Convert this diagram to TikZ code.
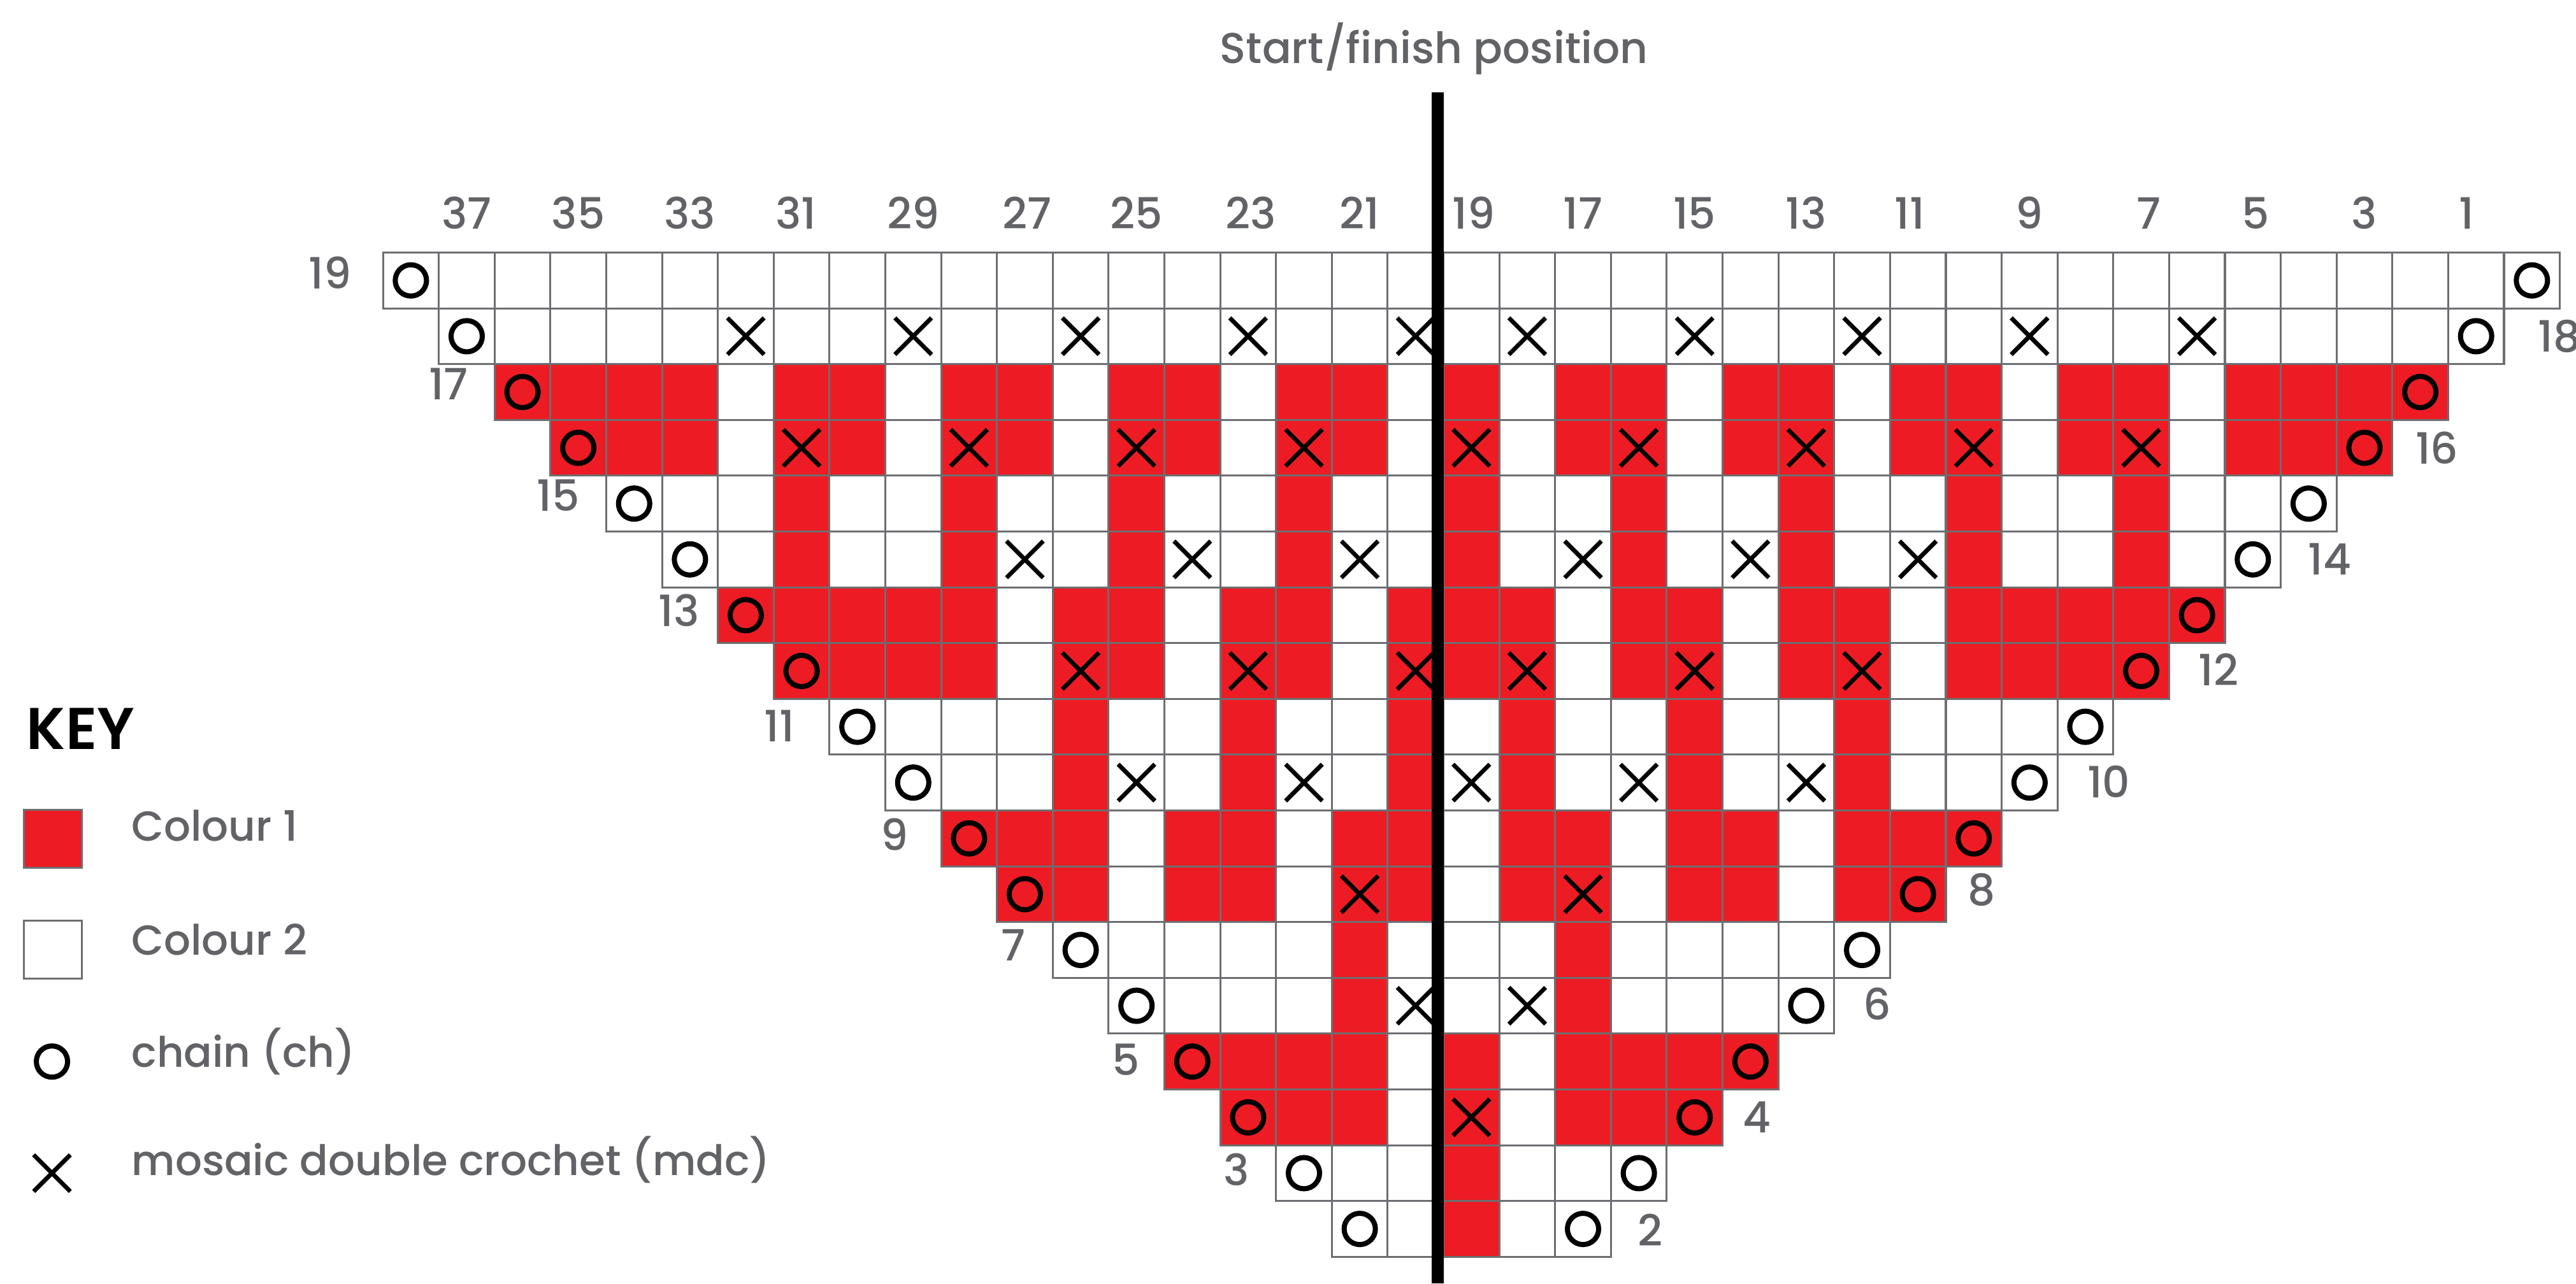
\documentclass[tikz,border=0pt]{standalone}
\usepackage{fontspec}
\setmainfont{Poppins Medium}
\newfontfamily\keyfont{Poppins SemiBold}
\usetikzlibrary{shapes.misc,positioning}
\definecolor{colourone}{HTML}{ED1C24}
\definecolor{gridgrey}{HTML}{6D6E71}
\definecolor{textgrey}{HTML}{626366}
\tikzset{cell/.style={draw=gridgrey, fill=white, line width=1pt, minimum size=1cm, inner sep=0pt}}
\tikzset{redcell/.style={cell, fill=colourone}}
\tikzset{chainmark/.style={circle, draw=black, line width=2.6pt, minimum size=.56cm, inner sep=0pt}}
\tikzset{mdcmark/.style={cross out, draw=black, line width=2.2pt, minimum size=.58cm, inner sep=0pt}}
\tikzset{numtext/.style={text=textgrey, inner sep=0pt, font=\fontsize{22}{26}\selectfont}}
\tikzset{keytext/.style={text=textgrey, inner sep=0pt, font=\fontsize{21.4}{25}\selectfont, anchor=base west}}

\begin{document}
\begin{tikzpicture}
\path[use as bounding box, fill=white] (-6.861,4.526) rectangle (39.29,-18.476);

\foreach \r in {0,...,17}{
\pgfmathtruncatemacro{\rowend}{38-\r}
\foreach \c in {\r,...,\rowend}
\node[cell] (c\r-\c) at ({\c+.5},{-\r-.5}) {};
}

\foreach \r/\redcols in {
2/{2,3,4,5,7,8,10,11,13,14,16,17,19,21,22,24,25,27,28,30,31,33,34,35,36},
3/{3,4,5,7,8,10,11,13,14,16,17,19,21,22,24,25,27,28,30,31,33,34,35},
4/{7,10,13,16,19,22,25,28,31},
5/{7,10,13,16,19,22,25,28,31},
6/{6,7,8,9,10,12,13,15,16,18,19,20,22,23,25,26,28,29,30,31,32},
7/{7,8,9,10,12,13,15,16,18,19,20,22,23,25,26,28,29,30,31},
8/{12,15,18,20,23,26},
9/{12,15,18,20,23,26},
10/{10,11,12,14,15,17,18,20,21,23,24,26,27,28},
11/{11,12,14,15,17,18,20,21,23,24,26,27},
12/{17,21},
13/{17,21},
14/{14,15,16,17,19,21,22,23,24},
15/{15,16,17,19,21,22,23},
16/{19},
17/{19}}{
\foreach \c in \redcols
\node[redcell] (c\r-\c) at ({\c+.5},{-\r-.5}) {};
}

\foreach \r in {0,...,17}{
\pgfmathtruncatemacro{\rowend}{38-\r}
\node[chainmark] (chainl\r) at (c\r-\r) {};
\node[chainmark] (chainr\r) at (c\r-\rowend) {};
}

\foreach \r/\mdccols in {
1/{6,9,12,15,18,20,23,26,29,32},
3/{7,10,13,16,19,22,25,28,31},
5/{11,14,17,21,24,27},
7/{12,15,18,20,23,26},
9/{13,16,19,22,25},
11/{17,21},
13/{18,20},
15/{19}}{
\foreach \c in \mdccols
\node[mdcmark] (mdc\r-\c) at (c\r-\c) {};
}

\foreach \c/\n/\nudge in {1/37/0,3/35/0,5/33/0,7/31/-.1,9/29/0,11/27/.04,13/25/0,15/23/.05,17/21/0,19/19/.04,21/17/0,23/15/0,25/13/0,27/11/-.15,29/9/0,31/7/.14,33/5/.05,35/3/0,37/1/-.17}
\node[numtext, above=.40cm of c0-\c, xshift=\nudge cm] (top\n) {\n};

\foreach \r/\gap/\lift/\n in {0/.54/.14/19,2/.45/.15/17,4/.45/.15/15,6/.31/.09/13,8/.60/.02/11,10/.56/.07/9,12/.46/.09/7,14/.42/.03/5,16/.46/.06/3}
\node[numtext, left=\gap cm of c\r-\r, yshift=\lift cm] (rowl\n) {\n};

\foreach \r/\e/\gap/\lift/\n in {1/37/.59/0/18,3/35/.39/0/16,5/33/.47/0/14,7/31/.50/.02/12,9/29/.51/.02/10,11/27/.37/.08/8,13/25/.50/.03/6,15/23/.34/0/4,17/21/.46/-.02/2}
\node[numtext, right=\gap cm of c\r-\e, yshift=\lift cm] (rowr\n) {\n};

\node[numtext] (start) at (18.83,3.65) {Start/finish position};
\coordinate (spinetop) at (18.9,2.87);
\coordinate (spinebot) at (18.9,-18.476);
\draw[line width=6.2pt] (spinetop) -- (spinebot);

\node[anchor=west, inner sep=0pt, font=\fontsize{30}{34}\keyfont] (keyhead) at (-6.39,-8.53) {KEY};
\node[redcell, minimum size=1.04cm] (keyone) at (-5.91,-10.51) {};
\node[cell, minimum size=1.04cm] (keytwo) at (-5.91,-12.49) {};
\node[chainmark] (keychain) at (-5.93,-14.5) {};
\node[mdcmark] (keymdc) at (-5.93,-16.5) {};
\node[keytext] (lblone) at (-4.51,-10.55) {Colour 1};
\node[keytext] (lbltwo) at (-4.51,-12.59) {Colour 2};
\node[keytext] (lblchain) at (-4.51,-14.6) {chain (ch)};
\node[keytext] (lblmdc) at (-4.51,-16.54) {mosaic double crochet (mdc)};
\end{tikzpicture}
\end{document}
